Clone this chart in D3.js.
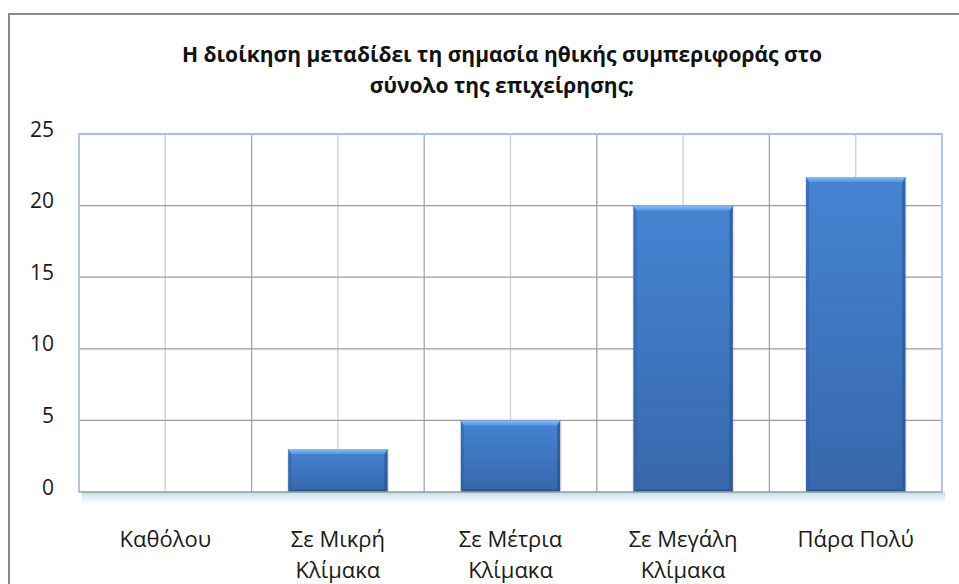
<!DOCTYPE html>
<html><head><meta charset="utf-8">
<script src="https://cdn.jsdelivr.net/npm/d3@7"></script>
<style>body{margin:0;background:#fff;}svg{display:block;}</style>
</head><body>
<svg id="c" width="959" height="584"></svg>
<script>
const titleLines = ["Η διοίκηση μεταδίδει τη σημασία ηθικής συμπεριφοράς στο", "σύνολο της επιχείρησης;"];
const categories = [["Καθόλου"], ["Σε Μικρή", "Κλίμακα"], ["Σε Μέτρια", "Κλίμακα"], ["Σε Μεγάλη", "Κλίμακα"], ["Πάρα Πολύ"]];
const values = [0, 3, 5, 20, 22];
const yTicks = [0, 5, 10, 15, 20, 25];

const svg = d3.select("#c");
const FONT = "'Open Sans', 'Noto Sans', sans-serif";
const m = {left: 79, top: 134, right: 942, bottom: 492};

const defs = svg.append("defs");
const gBar = defs.append("linearGradient").attr("id", "barG").attr("x1", 0).attr("x2", 0).attr("y1", 0).attr("y2", 1);
gBar.append("stop").attr("offset", "0%").attr("stop-color", "#4584d2");
gBar.append("stop").attr("offset", "100%").attr("stop-color", "#3767ab");
const gTop = defs.append("linearGradient").attr("id", "topG").attr("x1", 0).attr("x2", 0).attr("y1", 0).attr("y2", 1);
gTop.append("stop").attr("offset", "0%").attr("stop-color", "#8cc0f2");
gTop.append("stop").attr("offset", "100%").attr("stop-color", "#5596e0");
const gShadow = defs.append("linearGradient").attr("id", "shG").attr("x1", 0).attr("x2", 0).attr("y1", 0).attr("y2", 1);
gShadow.append("stop").attr("offset", "0%").attr("stop-color", "#b7dde6").attr("stop-opacity", 1);
gShadow.append("stop").attr("offset", "100%").attr("stop-color", "#ffffff").attr("stop-opacity", 0);

// outer frame
svg.append("path").attr("d", `M9,584 V14 H959`).attr("fill", "none").attr("stroke", "#8a8a8a").attr("stroke-width", 2);

const x = d3.scaleBand().domain(d3.range(categories.length)).range([m.left, m.right]).paddingInner(0).paddingOuter(0);
const y = d3.scaleLinear().domain([0, 25]).range([m.bottom, m.top]);

// shadow under plot
svg.append("rect").attr("x", m.left + 3).attr("y", m.bottom).attr("width", m.right - m.left).attr("height", 16).attr("fill", "url(#shG)");

// plot background
svg.append("rect").attr("x", m.left).attr("y", m.top).attr("width", m.right - m.left).attr("height", m.bottom - m.top).attr("fill", "#fff");

// vertical gridlines: centers (light) and boundaries (darker)
const g = svg.append("g");
categories.forEach((c, i) => {
  const cx = x(i) + x.bandwidth() / 2;
  g.append("line").attr("x1", cx).attr("x2", cx).attr("y1", m.top).attr("y2", m.bottom).attr("stroke", "#cfcfcf").attr("stroke-width", 1.3);
  if (i > 0) g.append("line").attr("x1", x(i)).attr("x2", x(i)).attr("y1", m.top).attr("y2", m.bottom).attr("stroke", "#a5a5a5").attr("stroke-width", 1.3);
});
// horizontal gridlines
yTicks.filter(t => t > 0 && t < 25).forEach(t => {
  g.append("line").attr("x1", m.left).attr("x2", m.right).attr("y1", y(t)).attr("y2", y(t)).attr("stroke", "#9c9c9c").attr("stroke-width", 1.3);
});
// plot border (light blue)
svg.append("path").attr("d", `M${m.left},${m.bottom} V${m.top} H${m.right} V${m.bottom}`).attr("fill", "none").attr("stroke", "#a7c0e6").attr("stroke-width", 1.8);

// bars
const bw = x.bandwidth() * 0.575;
const bars = svg.append("g");
values.forEach((v, i) => {
  if (v <= 0) return;
  const x0 = x(i) + (x.bandwidth() - bw) / 2, x1 = x0 + bw, y0 = y(v), y1 = y(0);
  const bt = 5, bs = 3;
  bars.append("rect").attr("x", x0 - 1).attr("y", y0).attr("width", bw + 2.5).attr("height", y1 - y0).attr("fill", "#000").attr("opacity", 0.1);
  bars.append("rect").attr("x", x0).attr("y", y0).attr("width", bw).attr("height", y1 - y0).attr("fill", "url(#barG)");
  bars.append("path").attr("d", `M${x0},${y0} L${x0 + bs},${y0 + bt} V${y1 - bs} L${x0},${y1} Z`).attr("fill", "#2f5f9e").attr("opacity", 0.55);
  bars.append("path").attr("d", `M${x1},${y0} L${x1 - bs},${y0 + bt} V${y1 - bs} L${x1},${y1} Z`).attr("fill", "#234f88").attr("opacity", 0.6);
  bars.append("path").attr("d", `M${x0},${y1} L${x0 + bs},${y1 - bs} H${x1 - bs} L${x1},${y1} Z`).attr("fill", "#264f86").attr("opacity", 0.6);
  bars.append("path").attr("d", `M${x0},${y0} H${x1} L${x1 - bs},${y0 + bt} H${x0 + bs} Z`).attr("fill", "url(#topG)");
});

// x axis line
svg.append("line").attr("x1", m.left).attr("x2", m.right).attr("y1", m.bottom).attr("y2", m.bottom).attr("stroke", "#9a9a9a").attr("stroke-width", 1.6);

// y axis labels
const yAxis = d3.axisLeft(y).tickValues(yTicks).tickSize(0).tickPadding(0);
const ya = svg.append("g").attr("transform", `translate(54,0)`).call(yAxis);
ya.select(".domain").remove();
ya.selectAll("text").attr("font-family", FONT).attr("font-size", 21).attr("fill", "#1a1a1a").attr("dy", "0.1em");

// x labels
const xl = svg.append("g");
categories.forEach((c, i) => {
  const cx = x(i) + x.bandwidth() / 2;
  const t = xl.append("text").attr("x", cx).attr("y", 547).attr("text-anchor", "middle")
    .attr("font-family", FONT).attr("font-size", 22).attr("fill", "#1a1a1a");
  c.forEach((line, k) => t.append("tspan").attr("x", cx).attr("dy", k === 0 ? 0 : 31).text(line));
});

// title
const tt = svg.append("text").attr("text-anchor", "middle").attr("font-family", FONT).attr("font-weight", "bold").attr("font-size", 21).attr("fill", "#111");
titleLines.forEach((l, k) => tt.append("tspan").attr("x", 502).attr("y", 62 + k * 31).text(l));
</script>
</body></html>
